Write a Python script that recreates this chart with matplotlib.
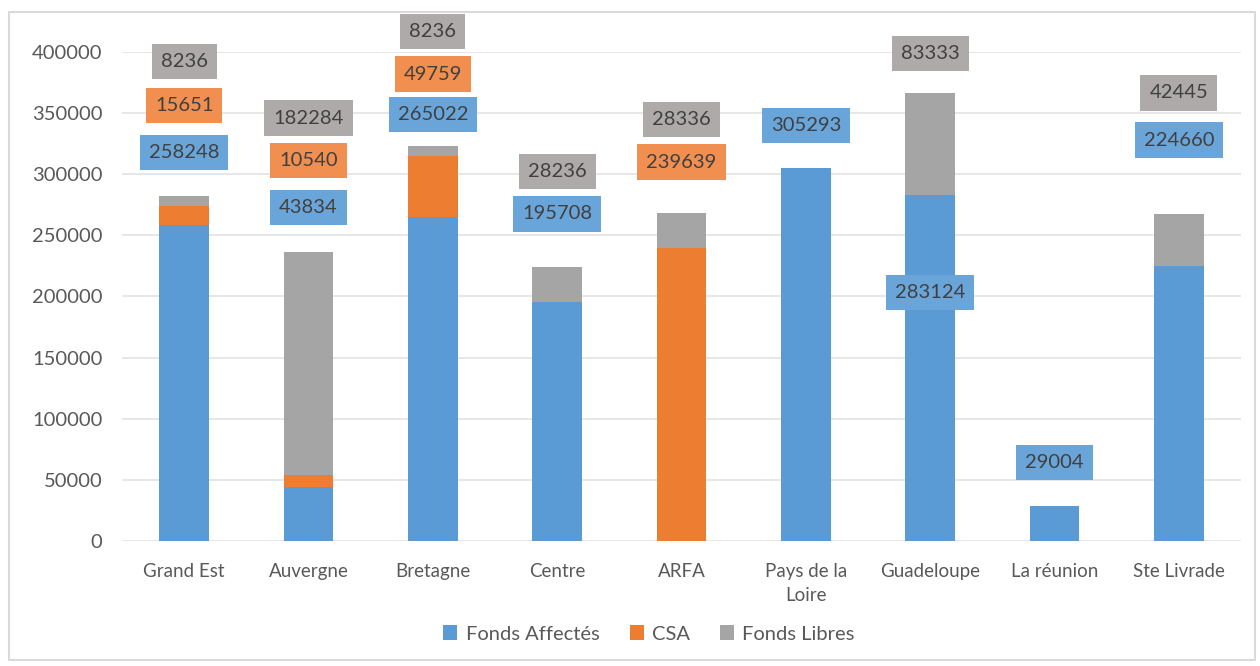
import matplotlib.pyplot as plt
import numpy as np
from matplotlib.patches import Rectangle

plt.rcParams['font.family'] = ['Lato', 'DejaVu Sans']

# Data
categories = ["Grand Est", "Auvergne", "Bretagne", "Centre", "ARFA",
              "Pays de la\nLoire", "Guadeloupe", "La réunion", "Ste Livrade"]
fonds_affectes = [258248, 43834, 265022, 195708, 0, 305293, 283124, 29004, 224660]
csa = [15651, 10540, 49759, 0, 239639, 0, 0, 0, 0]
fonds_libres = [8236, 182284, 8236, 28236, 28336, 0, 83333, 0, 42445]

# Where the (manually moved) data label boxes sit, in data units
label_y_fa = [318000, 273000, 349000, 267500, None, 340000, 203500, 64000, 328000]
label_y_csa = [356500, 311500, 382000, None, 310000, None, None, None, None]
label_y_fl = [392500, 346000, 417000, 302500, 345000, None, 399000, None, 366500]

c_blue, c_orange, c_gray = "#5b9bd5", "#ed7d31", "#a5a5a5"
box_blue, box_orange, box_gray = "#6aa5da", "#f08f4f", "#aeaaaa"

fig = plt.figure(figsize=(12.6, 6.66), dpi=100)
ax = fig.add_axes([122 / 1260, 1 - 541 / 666, (1241 - 122) / 1260, (541 - 52) / 666])

x = np.arange(len(categories))
fa = np.array(fonds_affectes)
cs = np.array(csa)
fl = np.array(fonds_libres)

w = 0.4
ax.bar(x, fa, w, color=c_blue, label="Fonds Affectés", zorder=2)
ax.bar(x, cs, w, bottom=fa, color=c_orange, label="CSA", zorder=2)
ax.bar(x, fl, w, bottom=fa + cs, color=c_gray, label="Fonds Libres", zorder=2)

ax.set_xlim(-0.5, len(categories) - 0.5)
ax.set_ylim(0, 400000)
ax.set_yticks(range(0, 400001, 50000))
ax.yaxis.grid(True, color="#e3e3e3", linewidth=1.2, zorder=0)
ax.set_xticks(x)
ax.set_xticklabels(categories, linespacing=1.5)
ax.tick_params(axis="both", length=0, labelsize=13.5, colors="#595959")
ax.tick_params(axis="y", labelsize=14.5, pad=14)
ax.tick_params(axis="x", pad=16)
for s in ax.spines.values():
    s.set_visible(False)
ax.set_axisbelow(True)


def put_labels(values, ys, fc):
    for i, (v, y) in enumerate(zip(values, ys)):
        if y is None:
            continue
        ax.text(i, y, str(v), ha="center", va="center", fontsize=14.5, color="#404040",
                bbox=dict(boxstyle="square,pad=0.45", fc=fc, ec="none"),
                zorder=5, clip_on=False)


put_labels(fonds_affectes, label_y_fa, box_blue)
put_labels(csa, label_y_csa, box_orange)
put_labels(fonds_libres, label_y_fl, box_gray)

leg = fig.legend(loc="center", bbox_to_anchor=(0.515, 1 - 634 / 666), ncol=3, frameon=False,
                 fontsize=14.5, handlelength=0.7, handleheight=0.7, handletextpad=0.4,
                 columnspacing=1.5)
for t in leg.get_texts():
    t.set_color("#595959")

# light chart border
fig.patches.append(Rectangle((9 / 1260, 6 / 666), 1246 / 1260, 648 / 666,
                             transform=fig.transFigure, fill=False,
                             ec="#d9d9d9", lw=1.5))

fig.savefig("out.png", dpi=100)
